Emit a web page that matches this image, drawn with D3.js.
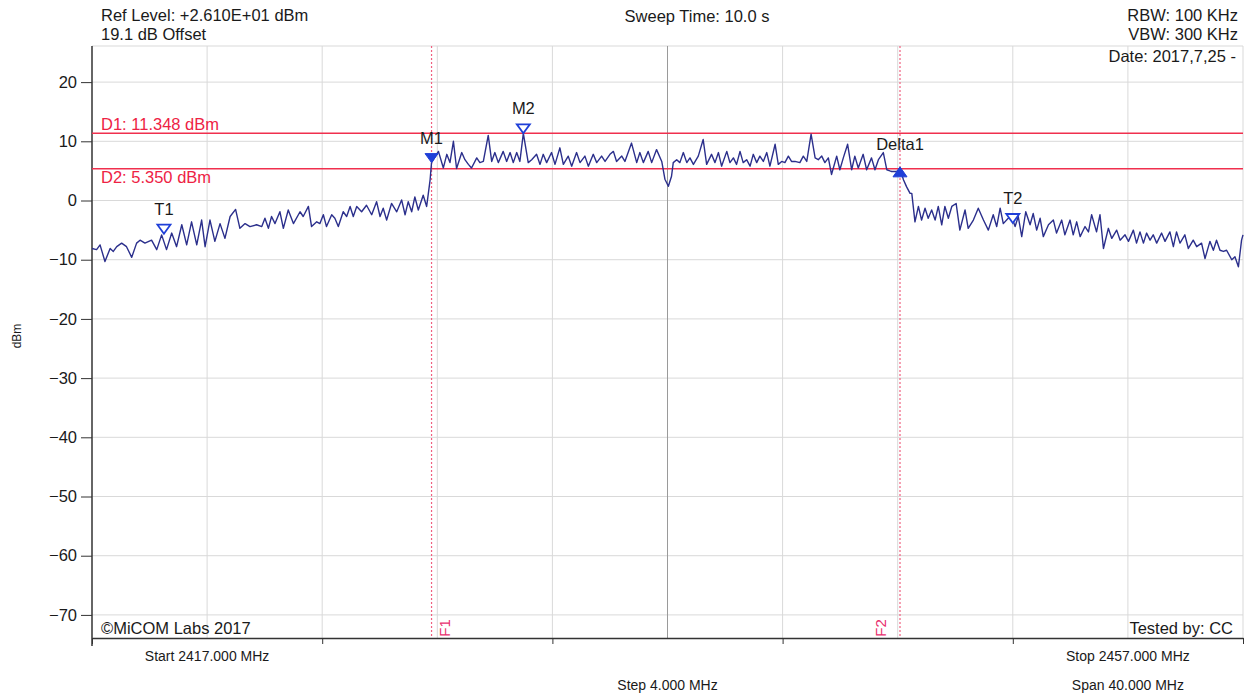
<!DOCTYPE html>
<html>
<head>
<meta charset="utf-8">
<title>Spectrum plot</title>
<script src="https://cdn.jsdelivr.net/npm/d3@7"></script>
<style>
  body { margin: 0; background: #fff; }
  svg text { font-family: "Liberation Sans", Arial, sans-serif; fill: #1a1a1a; }
  .grid line { stroke: #d9d9d9; stroke-width: 1; }
  .axis path, .axis line { stroke: #333; }
  .red { fill: #ee2244; }
</style>
</head>
<body>
<svg id="chart" width="1250" height="696"></svg>
<script>
// sweep settings (MHz / dBm)
const startFreq = 2417, stopFreq = 2457;
const refLevel = 26.1, bottomLevel = -73.9;
const yTicks = [20, 10, 0, -10, -20, -30, -40, -50, -60, -70];
const gridFreqs = [2421, 2425, 2429, 2433, 2437, 2441, 2445, 2449, 2453, 2457];
const axisTickFreqs = [2417, 2425, 2433, 2441, 2449, 2457];

// display lines
const displayLines = [
  { name: "D1", level: 11.348, label: "D1: 11.348 dBm", above: true },
  { name: "D2", level: 5.350, label: "D2: 5.350 dBm", above: false }
];
const freqLines = [
  { name: "F1", freq: 2428.8, side: 1 },
  { name: "F2", freq: 2445.08, side: -1 }
];

// markers
const markers = [
  { name: "T1", freq: 2419.5, level: -5.6, filled: false, up: false },
  { name: "M1", freq: 2428.8, level: 6.4, filled: true, up: false },
  { name: "M2", freq: 2431.99, level: 11.35, filled: false, up: false },
  { name: "Delta1", freq: 2445.08, level: 5.35, filled: true, up: true },
  { name: "T2", freq: 2449.0, level: -3.8, filled: false, up: false }
];

// trace readings [MHz, dBm]
const traceLow = [
  [2417.00,-8.1],[2417.16,-8.3],[2417.28,-7.5],[2417.45,-10.3],[2417.63,-8.1],[2417.74,-8.6],[2417.86,-7.8],
  [2418.03,-7.2],[2418.20,-7.8],[2418.38,-9.6],[2418.55,-7.2],[2418.67,-6.7],[2418.84,-7.2],[2419.07,-6.7],
  [2419.25,-8.3],[2419.42,-5.8],[2419.59,-8.3],[2419.77,-5.5],[2419.94,-7.8],[2420.12,-4.1],[2420.29,-7.5],
  [2420.46,-3.6],[2420.64,-7.5],[2420.81,-3.3],[2420.93,-7.8],[2421.10,-3.3],[2421.27,-6.9],[2421.45,-3.9],
  [2421.62,-6.4],[2421.80,-2.7],[2421.99,-1.5],[2422.14,-4.7],[2422.32,-3.9],[2422.49,-4.4],[2422.72,-4.1],
  [2422.90,-4.4],[2423.01,-3.0],[2423.13,-4.7],[2423.24,-2.7],[2423.36,-3.9],[2423.53,-1.9],[2423.65,-4.7],
  [2423.82,-1.6],[2424.00,-3.9],[2424.23,-1.9],[2424.34,-2.7],[2424.52,-1.0],[2424.63,-4.4],[2424.81,-3.6],
  [2424.92,-3.9],[2425.04,-2.4],[2425.15,-4.4],[2425.33,-2.4],[2425.44,-3.0],[2425.56,-4.4],[2425.73,-1.9],
  [2425.85,-2.7],[2425.97,-1.0],[2426.08,-2.7],[2426.20,-1.0],[2426.37,-1.9],[2426.54,-0.8],[2426.72,-2.4],
  [2426.89,-0.2],[2427.01,-2.7],[2427.12,-1.3],[2427.24,-3.3],[2427.41,-0.5],[2427.59,-1.9],[2427.76,0.1],
  [2427.88,-2.4],[2427.99,-0.2],[2428.11,-1.9],[2428.22,0.6],[2428.34,-1.6],[2428.51,0.9],[2428.63,-1.0],
  [2428.75,3.5]
];
const traceBand = [
  [2428.80,6.4],[2429.04,8.3],[2429.21,5.5],[2429.33,7.8],[2429.44,6.4],[2429.56,10.0],[2429.67,5.4],
  [2429.85,8.1],[2429.96,6.9],[2430.08,6.1],[2430.19,5.5],[2430.37,7.2],[2430.48,6.4],[2430.60,6.6],
  [2430.77,11.0],[2430.89,6.6],[2431.00,8.1],[2431.12,6.4],[2431.29,8.3],[2431.41,6.6],[2431.53,8.1],
  [2431.64,6.4],[2431.76,8.1],[2431.87,6.6],[2431.99,11.35],[2432.16,6.4],[2432.28,6.9],[2432.45,7.8],
  [2432.57,6.1],[2432.68,7.8],[2432.80,6.4],[2432.97,8.1],[2433.09,6.1],[2433.26,8.9],[2433.38,6.1],
  [2433.55,7.5],[2433.67,5.8],[2433.84,8.1],[2433.96,6.4],[2434.13,7.5],[2434.25,5.8],[2434.42,7.8],
  [2434.54,6.4],[2434.71,7.5],[2434.83,6.6],[2435.00,7.8],[2435.12,8.3],[2435.23,6.6],[2435.41,7.5],
  [2435.52,6.6],[2435.75,9.7],[2435.93,6.4],[2436.04,8.1],[2436.16,6.4],[2436.33,8.3],[2436.45,6.4],
  [2436.62,8.6],[2436.80,6.6],[2436.91,3.6],[2437.03,2.4],[2437.14,4.1],[2437.20,6.4],[2437.32,6.9],
  [2437.43,6.4],[2437.55,8.1],[2437.67,6.4],[2437.78,7.2],[2437.90,6.1],[2438.07,7.5],[2438.24,10.3],
  [2438.36,6.1],[2438.53,7.8],[2438.65,6.4],[2438.77,8.1],[2438.88,5.8],[2439.06,8.3],[2439.17,6.4],
  [2439.29,7.2],[2439.40,6.1],[2439.52,8.3],[2439.63,6.4],[2439.75,6.9],[2439.87,5.8],[2439.98,7.8],
  [2440.10,6.4],[2440.21,7.5],[2440.33,6.6],[2440.45,8.1],[2440.56,5.8],[2440.74,9.5],[2440.85,6.1],
  [2440.97,6.6],[2441.08,6.4],[2441.20,7.5],[2441.31,6.6],[2441.43,6.6],[2441.60,6.4],[2441.72,7.5],
  [2441.84,6.6],[2441.99,11.2],[2442.13,7.2],[2442.24,6.9],[2442.36,7.5],[2442.47,6.4],[2442.59,7.2],
  [2442.70,4.4],[2442.88,7.5],[2442.99,5.2],[2443.11,7.2],[2443.26,9.5],[2443.40,5.2],[2443.51,7.5],
  [2443.63,5.5],[2443.80,7.8],[2443.92,5.2],[2444.09,7.2],[2444.21,5.2],[2444.33,6.9],[2444.50,8.1],
  [2444.62,5.2],[2444.73,5.0]
];
const traceHigh = [
  [2444.79,4.9],[2444.96,4.9],[2445.08,5.35],[2445.20,3.5],[2445.31,2.3],[2445.43,1.2],[2445.49,1.2],
  [2445.60,-3.6],[2445.72,-1.0],[2445.83,-3.3],[2445.95,-1.3],[2446.06,-3.0],[2446.18,-1.6],[2446.30,-3.3],
  [2446.41,-1.0],[2446.53,-4.1],[2446.64,-1.0],[2446.76,-3.0],[2446.88,-1.0],[2447.03,-0.5],[2447.16,-5.0],
  [2447.34,-1.6],[2447.45,-4.7],[2447.63,-3.3],[2447.80,-1.3],[2447.98,-3.3],[2448.15,-5.0],[2448.32,-2.4],
  [2448.44,-4.4],[2448.56,-1.3],[2448.67,-3.9],[2448.84,-3.0],[2448.96,-2.7],[2449.08,-4.4],[2449.19,-2.7],
  [2449.31,-6.1],[2449.45,-1.9],[2449.60,-4.1],[2449.71,-2.2],[2449.83,-5.0],[2449.95,-3.0],[2450.06,-6.1],
  [2450.24,-4.1],[2450.41,-3.3],[2450.52,-5.5],[2450.70,-3.3],[2450.81,-5.8],[2450.99,-3.3],[2451.10,-5.8],
  [2451.22,-3.6],[2451.34,-6.1],[2451.51,-4.4],[2451.63,-5.3],[2451.74,-2.4],[2451.91,-5.3],[2452.03,-2.4],
  [2452.15,-8.1],[2452.32,-4.7],[2452.44,-6.4],[2452.61,-5.0],[2452.73,-6.7],[2452.90,-5.8],[2453.02,-6.9],
  [2453.19,-5.0],[2453.30,-7.2],[2453.42,-5.3],[2453.54,-7.2],[2453.65,-5.5],[2453.77,-6.7],[2453.88,-5.8],
  [2454.00,-7.2],[2454.17,-5.5],[2454.29,-6.9],[2454.46,-5.3],[2454.58,-7.8],[2454.69,-5.3],[2454.81,-7.2],
  [2454.98,-5.8],[2455.10,-8.1],[2455.27,-6.7],[2455.39,-7.8],[2455.56,-7.2],[2455.68,-9.8],[2455.85,-6.9],
  [2455.97,-8.4],[2456.08,-6.7],[2456.20,-8.4],[2456.32,-8.6],[2456.43,-8.4],[2456.61,-10.0],[2456.72,-9.5],
  [2456.84,-11.2],[2456.95,-6.7],[2457.00,-5.8]
];
const trace = traceLow.concat(traceBand, traceHigh);

const svg = d3.select("#chart");
const x = d3.scaleLinear().domain([startFreq, stopFreq]).range([92, 1243]);
const y = d3.scaleLinear().domain([bottomLevel, refLevel]).range([638, 46]);

// grid
const grid = svg.append("g").attr("class", "grid");
grid.selectAll("line.h").data(yTicks.concat([refLevel])).enter().append("line")
    .attr("x1", x(startFreq)).attr("x2", x(stopFreq))
    .attr("y1", d => y(d)).attr("y2", d => y(d));
grid.selectAll("line.v").data(gridFreqs).enter().append("line")
    .attr("x1", d => x(d)).attr("x2", d => x(d))
    .attr("y1", y(refLevel)).attr("y2", y(bottomLevel))
    .style("stroke", d => d === 2437 ? "#9a9a9a" : null);

// axes
const yAxis = d3.axisLeft(y).tickValues(yTicks).tickSize(11).tickPadding(4).tickSizeOuter(0);
const gy = svg.append("g").attr("class", "axis").attr("transform", "translate(92,0)").call(yAxis);
gy.select(".domain").remove();
gy.selectAll("text").style("font-size", "16.5px").attr("fill", "#1a1a1a");
svg.append("line").attr("x1", 92).attr("x2", 92)
    .attr("y1", y(refLevel)).attr("y2", y(bottomLevel) + 8)
    .style("stroke", "#333").style("stroke-width", 1.5);

const xAxis = d3.axisBottom(x).tickValues(axisTickFreqs).tickSize(6).tickFormat("").tickSizeOuter(0);
const gx = svg.append("g").attr("class", "axis").attr("transform", "translate(0,638)").call(xAxis);
gx.select(".domain").style("stroke-width", 1.5);

svg.append("text").attr("transform", "translate(21,336) rotate(-90)")
    .attr("text-anchor", "middle").style("font-size", "12px").text("dBm");

// display lines D1 / D2
displayLines.forEach(function(d) {
  svg.append("line")
    .attr("x1", x(startFreq)).attr("x2", x(stopFreq))
    .attr("y1", y(d.level)).attr("y2", y(d.level))
    .style("stroke", "#f0304e").style("stroke-width", 1.5);
  svg.append("text").attr("class", "red")
    .attr("x", 101).attr("y", y(d.level) + (d.above ? -3 : 14))
    .style("font-size", "16.5px").text(d.label);
});

// frequency lines F1 / F2
freqLines.forEach(function(d) {
  svg.append("line")
    .attr("x1", x(d.freq)).attr("x2", x(d.freq))
    .attr("y1", y(refLevel)).attr("y2", y(bottomLevel))
    .style("stroke", "#f06080").style("stroke-width", 1.2)
    .style("stroke-dasharray", "2,2");
  svg.append("text")
    .attr("transform", "translate(" + (x(d.freq) + d.side * 17 + (d.side < 0 ? 3 : 1)) + ",628) rotate(-90)")
    .attr("text-anchor", "middle").style("font-size", "15px")
    .style("fill", "#e8306e").text(d.name);
});

// trace
const line = d3.line().x(d => x(d[0])).y(d => y(d[1]));
svg.append("path").datum(trace)
    .attr("d", line)
    .style("fill", "none").style("stroke", "#2b2f8c").style("stroke-width", 1.4)
    .style("stroke-linejoin", "round");

// markers
markers.forEach(function(m) {
  const px = x(m.freq), py = y(m.level);
  let path;
  if (m.up) {
    path = "M" + (px - 7) + "," + (py + 8) + "L" + (px + 7) + "," + (py + 8) + "L" + px + "," + (py - 2) + "Z";
  } else {
    path = "M" + (px - 6.5) + "," + (py - 9) + "L" + (px + 6.5) + "," + (py - 9) + "L" + px + "," + py + "Z";
  }
  svg.append("path").attr("d", path)
    .style("fill", m.filled ? "#1f3fd8" : "#fff")
    .style("stroke", "#1f3fd8").style("stroke-width", m.filled ? 1 : 1.8);
  svg.append("text")
    .attr("x", px).attr("y", py - 19)
    .attr("text-anchor", "middle").style("font-size", "16.5px").text(m.name);
});

// header / footer texts
const texts = [
  { t: "Ref Level: +2.610E+01 dBm", x: 101, y: 21, a: "start", s: 16.5 },
  { t: "19.1 dB Offset", x: 101, y: 40, a: "start", s: 16.5 },
  { t: "Sweep Time: 10.0 s", x: 697, y: 22, a: "middle", s: 16.5 },
  { t: "RBW: 100 KHz", x: 1238, y: 21, a: "end", s: 16.5 },
  { t: "VBW: 300 KHz", x: 1238, y: 40, a: "end", s: 16.5 },
  { t: "Date: 2017,7,25 -", x: 1236, y: 62, a: "end", s: 16.5 },
  { t: "\u00A9MiCOM Labs 2017", x: 101, y: 634, a: "start", s: 16.5 },
  { t: "Tested by: CC", x: 1233, y: 634, a: "end", s: 16.5 },
  { t: "Start 2417.000 MHz", x: x(2421), y: 661, a: "middle", s: 14 },
  { t: "Stop 2457.000 MHz", x: x(2453), y: 661, a: "middle", s: 14 },
  { t: "Step 4.000 MHz", x: x(2437), y: 690, a: "middle", s: 14 },
  { t: "Span 40.000 MHz", x: x(2453), y: 690, a: "middle", s: 14 }
];
svg.selectAll("text.info").data(texts).enter().append("text")
    .attr("class", "info")
    .attr("x", d => d.x).attr("y", d => d.y)
    .attr("text-anchor", d => d.a)
    .style("font-size", d => d.s + "px")
    .text(d => d.t);
</script>
</body>
</html>
